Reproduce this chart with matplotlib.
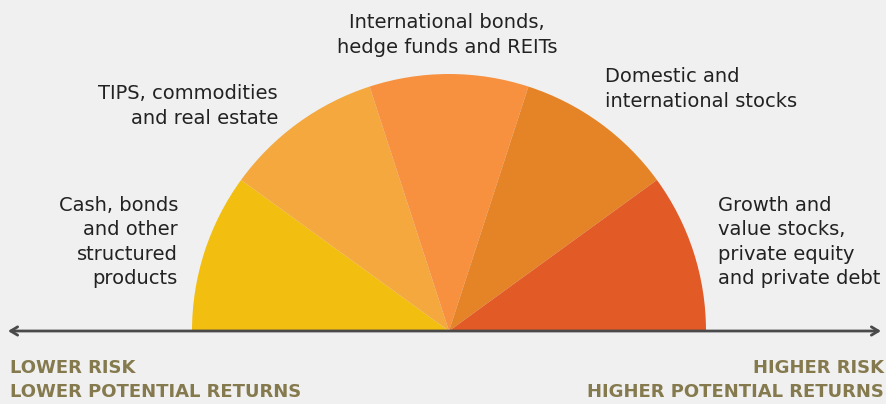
import matplotlib.pyplot as plt

# risk spectrum: five equal slices from low to high risk
categories = ['Cash, bonds\nand other\nstructured\nproducts',
              'TIPS, commodities\nand real estate',
              'International bonds,\nhedge funds and REITs',
              'Domestic and\ninternational stocks',
              'Growth and\nvalue stocks,\nprivate equity\nand private debt']
shares = [1, 1, 1, 1, 1]
colors = ['#F2BE10', '#F4A83E', '#F79140', '#E58426', '#E25B27']
low_label = 'LOWER RISK\nLOWER POTENTIAL RETURNS'
high_label = 'HIGHER RISK\nHIGHER POTENTIAL RETURNS'

bg = '#F0F0F0'
W, H = 886, 404
fig = plt.figure(figsize=(W / 100, H / 100), dpi=100, facecolor=bg)
ax = fig.add_axes([0, 0, 1, 1])
ax.set_facecolor(bg)
ax.set_xlim(0, W)
ax.set_ylim(0, H)
ax.set_aspect('equal')
ax.axis('off')

# half pie: the hidden wedge takes the bottom half
wedges, _ = ax.pie(shares + [sum(shares)], colors=colors + ['none'],
                   startangle=180, counterclock=False,
                   center=(449, H - 331), radius=257,
                   wedgeprops=dict(linewidth=0))
ax.set_xlim(0, W)
ax.set_ylim(0, H)

txt = dict(fontsize=14, color='#222222', linespacing=1.36, family='DejaVu Sans')
ax.text(178, H - 242, categories[0], ha='right', va='center', **txt)
ax.text(278, H - 106, categories[1], ha='right', va='center', **txt)
ax.text(447, H - 35, categories[2], ha='center', va='center', **txt)
ax.text(605, H - 89, categories[3], ha='left', va='center', **txt)
ax.text(718, H - 242, categories[4], ha='left', va='center', **txt)

# risk axis
ax.annotate('', xy=(881, H - 331), xytext=(8, H - 331),
            arrowprops=dict(arrowstyle='<->,head_length=0.5,head_width=0.3',
                            color='#4A4A4A', lw=2, shrinkA=0, shrinkB=0))

lab = dict(fontsize=13, color='#857A4E', fontweight='bold', linespacing=1.45,
           family='DejaVu Sans', va='center')
ax.text(10, H - 380, low_label, ha='left', **lab)
ax.text(884, H - 380, high_label, ha='right', multialignment='right', **lab)

plt.savefig('out.png', dpi=100, facecolor=bg)
